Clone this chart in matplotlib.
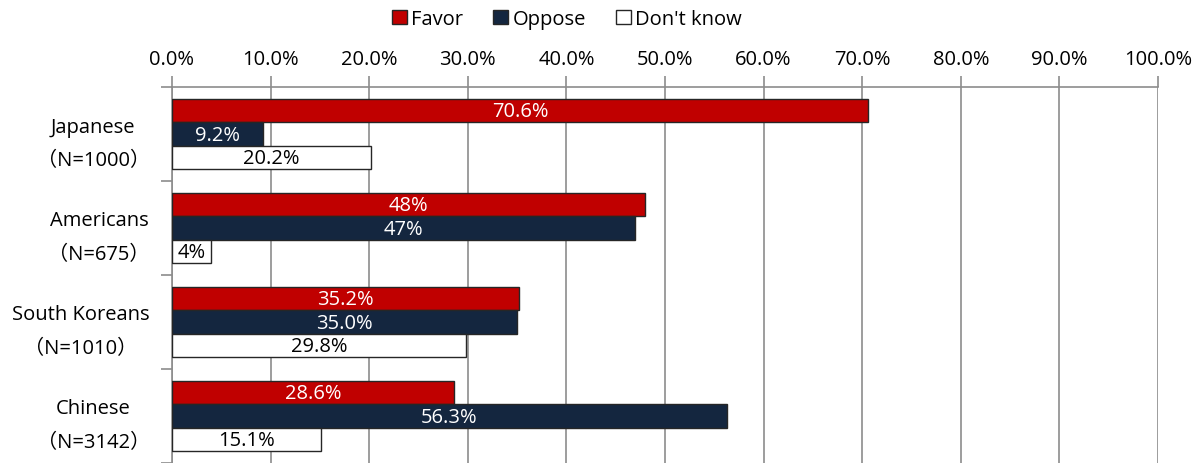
import matplotlib

matplotlib.use("Agg")
import matplotlib.pyplot as plt
import numpy as np
from matplotlib.patches import Patch

plt.rcParams["font.family"] = ["Open Sans", "Noto Sans CJK JP", "DejaVu Sans"]

categories = ["Japanese\n（N=1000）", "Americans\n（N=675）", "South Koreans\n（N=1010）", "Chinese\n（N=3142）"]
favor = [70.6, 48, 35.2, 28.6]
oppose = [9.2, 47, 35.0, 56.3]
dont_know = [20.2, 4, 29.8, 15.1]
favor_labels = ["70.6%", "48%", "35.2%", "28.6%"]
oppose_labels = ["9.2%", "47%", "35.0%", "56.3%"]
dont_know_labels = ["20.2%", "4%", "29.8%", "15.1%"]
ticks = [0, 10, 20, 30, 40, 50, 60, 70, 80, 90, 100]

RED = "#C00000"
NAVY = "#14263F"
GRID = "#8C8C8C"
EDGE = "#262626"
FS = 14.5

fig = plt.figure(figsize=(12.03, 4.64), dpi=100)
ax = fig.add_axes([172 / 1203, 0.0, (1158 - 172) / 1203, 1 - 88 / 464])

y = np.arange(len(categories))
h = 0.25
series = [
    (favor, favor_labels, RED, "white", -h, "Favor"),
    (oppose, oppose_labels, NAVY, "white", 0, "Oppose"),
    (dont_know, dont_know_labels, "white", "black", h, "Don't know"),
]
for vals, labs, color, tcolor, off, name in series:
    bars = ax.barh(y + off, vals, height=h, color=color, edgecolor=EDGE, linewidth=1.0, zorder=3)
    for b, lab in zip(bars, labs):
        ax.text(b.get_x() + b.get_width() / 2, b.get_y() + b.get_height() / 2 + 0.01, lab,
                ha="center", va="center", color=tcolor, fontsize=FS, zorder=4)

ax.set_xlim(0, 100)
ax.set_ylim(3.5, -0.5)
ax.xaxis.tick_top()
ax.set_xticks(ticks)
ax.set_xticklabels([f"{t:.1f}%" for t in ticks], fontsize=FS)
ax.tick_params(axis="x", length=8, width=1.2, color=GRID, pad=5)
ax.set_yticks(y)
ax.set_yticklabels(categories, fontsize=FS, multialignment="center", linespacing=1.9)
ax.tick_params(axis="y", which="major", length=0, pad=16)
ax.set_yticks(np.arange(-0.5, 4.0, 1.0), minor=True)
ax.tick_params(axis="y", which="minor", length=8, width=1.2, color=GRID)
ax.grid(axis="x", color=GRID, linewidth=1.2, zorder=0)
for s in ["right", "bottom"]:
    ax.spines[s].set_visible(False)
for s in ["top", "left"]:
    ax.spines[s].set_color(GRID)
    ax.spines[s].set_linewidth(1.2)

handles = [Patch(facecolor=c, edgecolor=EDGE, label=n) for _, _, c, _, _, n in series]
fig.legend(handles=handles, loc="center", bbox_to_anchor=(567 / 1203, 1 - 20 / 464), ncol=3, frameon=False,
           fontsize=FS, handlelength=0.75, handleheight=0.75, handletextpad=0.2, columnspacing=1.5)

fig.savefig("out.png", dpi=100, facecolor="white")
